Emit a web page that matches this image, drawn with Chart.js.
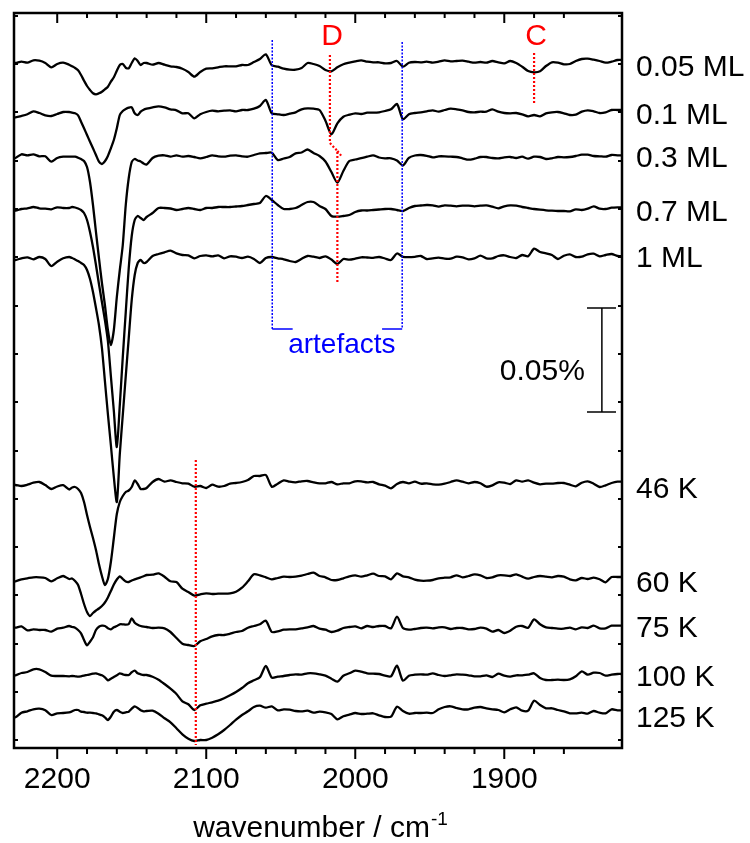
<!DOCTYPE html>
<html>
<head>
<meta charset="utf-8">
<script src="https://cdn.jsdelivr.net/npm/chart.js@4.4.1/dist/chart.umd.min.js"></script>
<style>
  html, body { margin: 0; padding: 0; background: #fff; }
  #chart { display: block; }
</style>
</head>
<body>
<canvas id="chart" width="750" height="843"></canvas>
<script>
// wavenumber grid (cm-1), finer around the CO band
const wavenumbers = [2232, 2228, 2224, 2220, 2216, 2212, 2208, 2204, 2200, 2196,
  2192, 2190, 2188, 2186, 2184, 2182, 2180, 2178, 2176, 2174, 2172, 2170, 2168, 2166, 2164, 2162, 2160, 2158, 2156, 2154, 2152, 2150, 2148, 2146, 2144, 2142, 2140,
  2136, 2132, 2128, 2124, 2120, 2116, 2112, 2108, 2104, 2100, 2096, 2092, 2088, 2084, 2080, 2076, 2072, 2068, 2064, 2060, 2056, 2052, 2048, 2044, 2040, 2036, 2032, 2028, 2024, 2020, 2016, 2012, 2008, 2004, 2000, 1996, 1992, 1988,
  1984, 1980, 1976, 1972, 1968, 1964, 1960, 1956, 1952, 1948, 1944, 1940, 1936, 1932, 1928, 1924, 1920, 1916, 1912, 1908, 1904, 1900, 1896, 1892, 1888, 1884, 1880, 1876, 1872, 1868, 1864, 1860, 1856, 1852, 1848, 1844, 1840, 1836, 1832, 1828, 1824, 1820];

// signals relative to each trace's baseline (arb. units, 104 units = 0.05 %)
const ml005 = [0, 0, 1.3, 0.3, 2.7, 2.3, 0, -4.3, -1, 0.3,
  -1.7, -3.3, -5, -7.3, -12, -17.7, -23, -27, -30.3, -31.3, -30.3, -28.7, -26.3, -23.7, -18.7, -14.3, -7.7, -2, -1, -4.7, -5.3, 0, 4.7, 2, -2, 0, 0,
  -1.7, 0, -1.7, -3.3, -4, -5.7, -9, -13.7, -9, -5.7, -5.3, -4.3, -3.3, -3.3, -3.3, -2, -2, 1, 4, 8.7, -2.3, -3.7, -5.7, -6.7, -6.7, -5, 0, -1, -3, -7, -8.3, -4.3, -1.3, 0.3, 1.7, 2.7, 1.3, 0.7,
  0.7, -0.3, 0, 2, -3.7, 0.3, 1, 0.7, 1.3, 0.3, 1.3, 2.7, 1.7, 2, 2.3, 1.3, 0.3, 1, 0.3, 2, 0.7, -0.3, 2, 0, -3.7, -8, -9.3, -8.3, -3, 0.7, 0.3, -1.3, -1, 2, 4, 4.3, 3.3, 2, 0.3, 1.3, 3, 3];
const ml01 = [-5.3, -5.3, -4, -2.3, 0.7, -1, -3.3, -4, -2, 0,
  0, -0.7, -1.3, -3.3, -9.7, -16.3, -23, -29.7, -36.3, -43, -49.7, -52, -49.3, -44, -36.3, -28, -16.3, -3, 1, 3, 4.3, 4.7, -1.3, -3, 0.3, 2.3, 3.3,
  4.7, 5.7, 4.7, 2.7, 1.7, -1.3, -1.3, -6.3, -2.3, 0, 1.3, 0.7, 1.3, 1.7, 0.7, 2, 2, 3.3, 6, 12, -1.3, -2.3, -3, -1.7, -0.3, 2.7, 3.7, 3.3, 2, -8.7, -22.3, -11.3, -4.7, -2.7, -1.3, -2, -0.7, -0.7,
  -0.3, 1, 2.7, 8, -7.3, -2.3, -1, -0.3, 0.7, 1.7, 0.3, 2, 3.3, 2.7, 1.7, 0, -0.3, 0.3, 0.3, 2.7, 0.3, -1, -1.3, -1, -2.3, -4.3, -3, -4.3, -1.3, -0.3, 0, -1.3, -3, -2.7, 0.3, 1.7, 0.7, -1, -0.3, 2, 2, 2];
const ml03 = [-1, -1, 2.7, 1.7, 2.7, 0.7, 0.7, -4.7, -1, 0.3,
  0.3, 0.3, 0.3, -0.7, -2, -4, -10, -25, -48, -75, -101, -126, -148, -173, -188, -173, -140, -113, -88, -48, -21, -5, -2, -3.5, -4.5, -6.5, -7.5,
  -1, 1.3, 1.7, 0.3, 1.7, 0.3, 1, 0, -1.3, 0, 1.7, 0.7, 0.3, 1.3, 1.7, 0.7, 0.3, 2, 3.7, 4, 4.3, -3, -1.5, 0, 3.7, 4.5, 7.5, 4, 1, -4.5, -15, -25.7, -14, -4, -2.5, -1.2, 0.3, 1.7,
  -0.5, -1.3, -1.3, -3.5, -8.5, -0.8, 1.5, 2, 1.2, -0.3, 0.7, 0.7, 0.3, 0, -1.3, -2.7, -1.7, 0, 0, -1, -1.3, -0.3, 0, -1, 0.3, -1.7, 0.3, 0, -2, -1.3, 0, -0.3, 0, 1, 2.3, 2.3, 1, 0.7, 0.3, 2, 1.7, 1.7];
const ml07 = [-0.7, -0.7, 1, 1.7, 3, 1.7, 1.3, 0.7, 2.7, 2,
  2, 3, 2.5, 1.5, 0, -3, -10, -22, -37, -55, -74, -92, -110, -131, -166, -201, -237, -195, -147, -102, -58, -26, -10, -6, -8, -10, -7,
  -3, 2, 2, 1.5, 0, 1, 2, 1, 0, 2, 2, 3, 3, 3, 3.5, 4, 5, 6, 7, 14, 10, 5, 1, 1, 2, 5, 8, 8, 4, 1, -6, -6.7, -6, -5, -2, -0.5, -0.5, 0,
  0.5, 1, 1, 0, -1, 2, 4, 4.5, 5, 4.7, 3.3, 4.7, 4.3, 3.7, 4.3, 4.3, 3.7, 4.3, 4.7, 3.3, 1.7, 3.7, 4.7, 4.3, 3, 2, 1, 0.3, -0.3, -0.7, -1, -1, -1.3, 0.7, 0, 1.3, 3.7, 1.3, 1, 2.3, 2.7, 2.7];
const ml1 = [-1, -1, 0.7, 1.7, -0.3, 2, 0, -7, -2.7, 0.7,
  2, 1, -0.5, -2, -4, -6, -11, -20, -33, -49, -66, -89, -122, -155, -186, -218, -243, -195, -156, -117, -79, -41, -16, -4, -1, -4, -3,
  3, 5, 6.7, 8.3, 5.7, 4, 3.7, 0.7, 3, 3.7, 2.7, 3.7, 0.7, 2.7, 2.3, 1, 2.3, 0, -4, 1, 2, 0.7, -0.3, -2, -3, 0.2, 3, 2.3, 1, 2.7, -0.5, -5, 0, -0.7, 0.3, 1.7, 1.5, 1.2,
  2, 0.5, -1, 5.5, 2.2, 1.8, 2.2, 3, 0, 0.7, 1.3, 0.3, 0.3, 2.3, 1.7, -0.3, 0.7, 3.3, 0.7, 0.7, 3, 3.7, 2, 1, 4, 2.7, 10.3, 7, 5.7, 4, 0, 3.3, 4.7, 2, 2.3, 4.7, 5.3, 2.7, 4, 5, 3, 3];
const k46 = [-1, -1, -2, -0.7, 1.3, 2, -1, -5, -2.5, -1.2,
  -5.5, -3.5, -3, -5, -9, -18, -31, -43, -54, -66, -80, -92, -101, -95, -78, -54, -30, -18, -12, -8, -6.5, -3, 3.5, 0, -5, -5, -4,
  2, 5, 2.3, 3.7, 2, 0.7, 0.3, -2.7, -2, -4, -0.7, -2.7, -2, 0.3, 1, 2, 4, 8, 8, 9, -2.7, 0.3, 3.7, 2.3, 1.7, 2.7, 3, 1.7, 0.7, 0.7, 2, -0.3, 0.7, 0.7, 2.7, 2.7, 1.7, 2,
  -0.3, -1.7, -4.3, 0, 2, 0.7, 2.3, 0.3, 0.7, -0.3, -0.7, 0.3, 2, 3.7, 2.3, 0.7, 2, 0.7, -2.7, -1.3, 1.7, 1.3, 0, 3.7, 2.3, 3.7, 1.3, -0.3, 0.3, 0.3, 1, 1, -0.7, -2.3, 1.3, 2.7, 0.3, -3, -1.3, 1, 2.3, 2.3];
const k60 = [-2.3, -2.3, -0.3, 0.7, 1.7, 1.7, 1, -2.3, 0.7, 3,
  0, 0.5, -2, -6, -15, -25, -33, -37, -34, -31.5, -29.5, -27, -23.5, -18.5, -12, -5.5, -0.5, 2.7, 0, -2.5, -3, -1.5, -0.3, 0.7, 1.7, 2.7, 4,
  4.3, 5.7, 2.3, -2.3, -3, -9.7, -13, -16.7, -15.3, -14.3, -15, -14.7, -14.7, -14.3, -12.7, -8.7, -2.3, 4.7, 3.7, 1.7, -0.3, 1, 2.3, 2, 2.3, 3.3, 5, 6.3, 3, 1.7, -1, -1, 0.7, 2.7, 3.7, 2.3, 3.7, 5.3,
  3, 2.7, -0.3, 5.7, 2.7, 1.7, -0.7, -1.7, -1.7, -1, 0.7, 1.3, 1.7, 3.7, 1.7, 3, 4.7, 3.7, 1, 1.7, 3.7, 3.7, 3, 4.7, 2.3, 0.3, 2, 3, 2.3, 1.7, 3, 2.3, -0.3, -1.3, 1, 0, 1.3, -0.3, -3.3, 2, 2, 2];
const k75 = [0.3, 0.3, 1.7, -2.3, -1.3, -2, -2, -3.7, -0.7, 0.3,
  2, 1, 0.3, -2, -5.3, -12, -17.3, -13.7, -9.3, -2, 1.3, 2.3, 2, -0.3, -1.3, 0.7, 2, 3.7, 3.7, 3.3, 4, 9.7, 5.3, 3.3, 2, 1.3, 1,
  0, 0.3, -0.3, -4, -10, -15.7, -17, -18, -13.3, -11, -8.3, -7, -7, -5.7, -4, -3, 0.3, 2, 3.7, 7.3, -4, -3.3, -1.7, -1.3, -1.3, -0.3, 0.7, 2, -0.7, -1.7, -4, -2.7, 0, 1, 1.7, -0.3, 2, 1,
  2, 2, -0.3, 11.3, 0, -1.7, -1, 0, 0.3, -0.3, 0.7, 0.7, -1, 0, 0, -1.3, -1, 0.3, -0.7, -3.7, -2, -5, -2.7, 1.3, 2, 0.3, 8.7, 3.7, 0.7, 0, -0.7, -0.7, 0.3, -1.3, 0.7, 0, 2.3, -0.3, -0.3, 2.3, 2.3, 2.3];
const k100 = [-0.3, -0.3, 2, 3, 5.7, 5.7, 3, -0.7, -1, -1,
  -1.3, -1, -1.3, -1.7, -1.3, -0.7, 0, 0.7, 1.3, 1.7, 0.7, -0.3, -2.3, -5.3, -3.7, -2, -0.3, 1.7, 0.7, 0, 0, 2.7, 4.3, 1.7, 0.7, 0, 0,
  -1.7, -4.7, -9, -13.7, -19, -26.3, -29.3, -35, -30.3, -28.7, -27.3, -25.7, -23.3, -20.3, -17, -13, -8.3, -5.3, -2.3, 9, -2.7, -1.7, -1, 0, 0.7, 0.3, 1.7, 1.7, 0.7, -0.7, -3.7, -6.7, -0.7, 1.7, 4.3, 3.3, 1.7, 1.3,
  1, -0.7, -1.3, 9.3, -5.7, -0.7, 0.3, 0.7, 0.3, 1.7, 0, -1, -0.3, 0.7, 0.3, -0.3, -1.3, -1.3, -0.3, -2, 1.3, -0.7, -1.7, -0.3, -0.3, 0.3, 1.7, -3, -5, -5, -4.7, -5, -4.3, -1.3, 3.7, 0.3, 2.3, 2, -0.7, 0.3, 1, 1];
const k125 = [-3.3, -3.3, 1.3, 2.7, 4.7, 5.3, 3.7, -1, 0.7, 1,
  1.7, 2.7, 4, 4, 2.3, 2, 1.3, 1.3, 1, 0.7, -0.3, -1.3, -3.3, -6, -2.7, 2.3, 4, 2.3, 1, 1.7, 2.3, 5.3, 7.7, 6, 3.7, 2.7, 3,
  3.3, 0.3, -4.3, -8.3, -14.3, -20.3, -24.7, -27, -26, -26, -23.7, -20.3, -16, -11, -5.7, -1, 2.7, 7, 8.3, 6.3, 7.7, 3.7, 4.7, 4.3, 3, 2.7, 3.3, 1.3, 2.3, 1.7, 0, -5.3, -2.3, -0.7, 1, 0, 0.3, 0.7,
  -1.3, -3, -2.7, 7.3, 3, 0.3, 1, 1, 1.3, 1, 4.7, 7, 7.7, 6, 4.7, 4.7, 6.3, 7, 5.7, 4.7, 4, 1.7, 4.7, 6.7, 3.3, 3.3, 13.3, 9, 5.7, 5.7, 4, 2.7, 0.7, 0.7, 1.3, 0.3, 3, 1.3, 0.7, 4.7, 3.7, 3.7];

const traceLabels = ['0.05 ML', '0.1 ML', '0.3 ML', '0.7 ML', '1 ML', '46 K', '60 K', '75 K', '100 K', '125 K'];
const traceOffsets = [685, 636, 591, 538, 489, 264, 169, 120, 73, 34];
const yTickValues = [8, 56, 104, 153, 201, 249, 297, 346, 394, 442, 491, 539, 587, 636, 684, 732];

const FONT = '"Liberation Sans", Arial, Helvetica, sans-serif';
Chart.defaults.font.family = FONT;

const series = [ml005, ml01, ml03, ml07, ml1, k46, k60, k75, k100, k125];
const datasets = series.map((s, i) => ({
  label: traceLabels[i],
  data: wavenumbers.map((w, j) => ({ x: w, y: traceOffsets[i] + s[j] })),
  borderColor: '#000',
  borderWidth: 2.3,
  pointRadius: 0,
  tension: 0.25,
  fill: false
}));

// small vertical nudges (px) so each label sits where the original put it
const labelNudge = [4.5, 3.7, 1.7, 2.8, -0.3, 5.5, 4.7, 1, 2.8, 4.7];

function polyline(ctx, pts, color, width, dash) {
  ctx.beginPath();
  ctx.strokeStyle = color;
  ctx.lineWidth = width;
  ctx.setLineDash(dash || []);
  pts.forEach((p, i) => (i ? ctx.lineTo(p[0], p[1]) : ctx.moveTo(p[0], p[1])));
  ctx.stroke();
  ctx.setLineDash([]);
}

const decorations = {
  id: 'decorations',
  afterDraw(chart) {
    const { ctx, chartArea: a, scales: { x, y } } = chart;
    const P = (w, v) => [x.getPixelForValue(w), y.getPixelForValue(v)];
    ctx.save();

    // red guide lines
    const red = '#ff0000';
    polyline(ctx, [P(2017, 693), P(2017, 605), P(2012, 597), P(2012, 465)], red, 2.2, [2, 2]);
    polyline(ctx, [P(2012, 597), P(2009.3, 592)], red, 2.2, [2, 2]);
    polyline(ctx, [P(1880, 695), P(1880, 644)], red, 2.2, [2, 2]);
    polyline(ctx, [P(2107, 288), P(2107, 3)], red, 2.2, [2, 2]);

    // artefact markers
    const blue = '#0000ff';
    polyline(ctx, [P(2055.7, 708), P(2055.7, 419)], blue, 1.5, [2, 1.5]);
    polyline(ctx, [P(1968.5, 706), P(1968.5, 419)], blue, 1.5, [2, 1.5]);
    polyline(ctx, [P(2055.7, 419), P(2042, 419)], blue, 1.5);
    polyline(ctx, [P(1982, 419), P(1968.5, 419)], blue, 1.5);

    ctx.font = '28px ' + FONT;
    ctx.fillStyle = blue;
    ctx.textAlign = 'center';
    ctx.textBaseline = 'alphabetic';
    let p = P(2009, 395);
    ctx.fillText('artefacts', p[0], p[1]);

    ctx.font = '30px ' + FONT;
    ctx.fillStyle = red;
    p = P(2015.5, 703);
    ctx.fillText('D', p[0], p[1]);
    p = P(1878.7, 703);
    ctx.fillText('C', p[0], p[1]);

    // scale bar
    polyline(ctx, [P(1834.5, 440), P(1834.5, 336)], '#000', 1.5);
    polyline(ctx, [P(1844.5, 440), P(1825, 440)], '#000', 1.5);
    polyline(ctx, [P(1844.5, 336), P(1825, 336)], '#000', 1.5);
    ctx.fillStyle = '#000';
    ctx.textAlign = 'right';
    p = P(1845.9, 368);
    ctx.fillText('0.05%', p[0], p[1]);

    // trace labels
    ctx.textAlign = 'left';
    ctx.textBaseline = 'middle';
    traceLabels.forEach((t, i) => {
      ctx.fillText(t, a.right + 14, y.getPixelForValue(traceOffsets[i]) + labelNudge[i]);
    });

    // frame and ticks
    ctx.strokeStyle = '#000';
    ctx.lineWidth = 2.5;
    ctx.strokeRect(a.left, a.top, a.right - a.left, a.bottom - a.top);
    ctx.lineWidth = 2;
    ctx.beginPath();
    x.ticks.forEach(t => {
      if (Math.abs(t.value % 20) > 1e-6) return;
      const px = x.getPixelForValue(t.value);
      if (px < a.left + 2 || px > a.right - 2) return;
      const major = Math.abs(t.value % 100) < 1e-6;
      ctx.moveTo(px, a.bottom);
      ctx.lineTo(px, a.bottom + (major ? 11 : 6));
      ctx.moveTo(px, a.top);
      ctx.lineTo(px, a.top + (major ? 10 : 5));
    });
    yTickValues.forEach(v => {
      const py = y.getPixelForValue(v);
      ctx.moveTo(a.left, py);
      ctx.lineTo(a.left + 4, py);
      ctx.moveTo(a.right, py);
      ctx.lineTo(a.right - 4, py);
    });
    ctx.stroke();

    // axis title with superscript
    const main = 'wavenumber / cm', sup = '-1';
    ctx.font = '30px ' + FONT;
    const w1 = ctx.measureText(main).width;
    ctx.font = '19px ' + FONT;
    const w2 = ctx.measureText(sup).width;
    const x0 = (a.left + a.right) / 2 + 2 - (w1 + w2) / 2;
    ctx.textBaseline = 'alphabetic';
    ctx.font = '30px ' + FONT;
    ctx.fillText(main, x0, 837);
    ctx.font = '19px ' + FONT;
    ctx.fillText(sup, x0 + w1 + 1, 825);

    ctx.restore();
  }
};

new Chart(document.getElementById('chart').getContext('2d'), {
  type: 'line',
  data: { datasets },
  options: {
    responsive: false,
    animation: false,
    devicePixelRatio: 1,
    layout: { padding: { left: 13, right: 128, top: 13, bottom: 0 } },
    plugins: { legend: { display: false }, tooltip: { enabled: false } },
    scales: {
      x: {
        type: 'linear',
        reverse: true,
        min: 1821,
        max: 2229,
        grid: { display: false, drawTicks: false },
        border: { display: false },
        ticks: {
          stepSize: 20,
          autoSkip: false,
          maxRotation: 0,
          padding: 14,
          color: '#000',
          font: { size: 30 },
          callback: v => (Math.abs(v % 100) < 1e-6 ? String(v) : '')
        },
        afterFit: s => { s.height = 95; }
      },
      y: { type: 'linear', min: 0, max: 735, display: false }
    }
  },
  plugins: [decorations]
});
</script>
</body>
</html>
